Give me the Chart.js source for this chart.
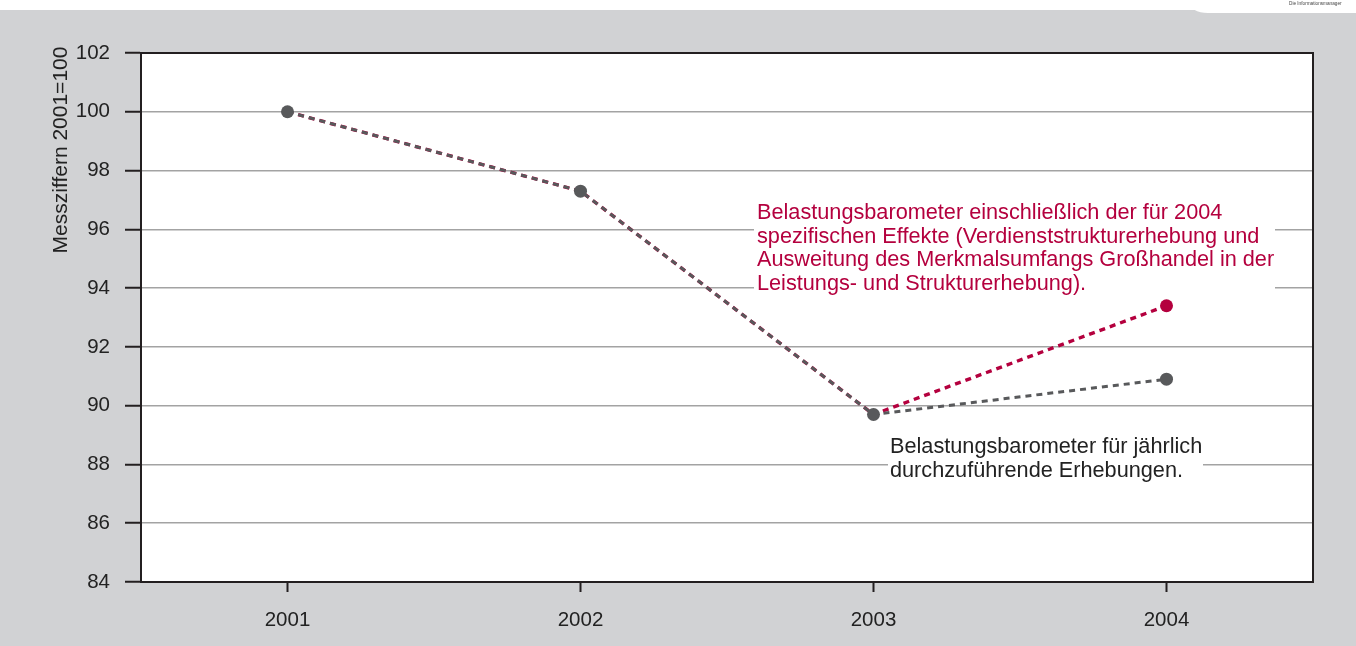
<!DOCTYPE html>
<html>
<head>
<meta charset="utf-8">
<script src="https://cdn.jsdelivr.net/npm/chart.js@4/dist/chart.umd.min.js"></script>
<style>
  html, body { margin: 0; padding: 0; background: #d1d2d4; }
  #wrap { position: relative; width: 1356px; height: 646px; }
</style>
</head>
<body>
<div id="wrap"><canvas id="myCanvas" width="1356" height="646"></canvas></div>
<script>
// chart data
var years = ['2001', '2002', '2003', '2004'];
var annual_values = [100, 97.3, 89.7, 90.9];
var specific_values = [100, 97.3, 89.7, 93.4];
var y_ticks = [84, 86, 88, 90, 92, 94, 96, 98, 100, 102];

var y_title = 'Messziffern 2001=100';
var red_note = [
    'Belastungsbarometer einschließlich der für 2004',
    'spezifischen Effekte (Verdienststrukturerhebung und',
    'Ausweitung des Merkmalsumfangs Großhandel in der',
    'Leistungs- und Strukturerhebung).'
];
var grey_note = [
    'Belastungsbarometer für jährlich',
    'durchzuführende Erhebungen.'
];

var grey = '#58595b';
var red = '#b4003e';
var font = '"Liberation Sans", Arial, Helvetica, sans-serif';

// background, header strip and logo
var backgroundPlugin = {
    id: 'bg',
    beforeDraw: function(chart) {
        var ctx = chart.ctx;
        ctx.save();
        ctx.fillStyle = '#d1d2d4';
        ctx.fillRect(0, 0, chart.width, chart.height);
        ctx.fillStyle = '#ffffff';
        ctx.fillRect(0, 0, chart.width, 10);
        // logo tab
        ctx.beginPath();
        ctx.moveTo(1185, 0);
        ctx.quadraticCurveTo(1192, 13, 1208, 13);
        ctx.lineTo(1356, 13);
        ctx.lineTo(1356, 0);
        ctx.closePath();
        ctx.fill();
        ctx.fillStyle = '#444';
        ctx.font = '6px ' + font;
        ctx.textBaseline = 'middle';
        ctx.save();
        ctx.translate(1289, 3.5);
        ctx.scale(0.78, 1);
        ctx.fillText('Die Informationsmanager', 0, 0);
        ctx.restore();
        // plot background
        var a = chart.chartArea;
        ctx.fillStyle = '#ffffff';
        ctx.fillRect(a.left, a.top, a.right - a.left, a.bottom - a.top);
        ctx.restore();
    }
};

// white text boxes over the gridlines + notes, frame
var notesPlugin = {
    id: 'notes',
    beforeDatasetsDraw: function(chart) {
        var ctx = chart.ctx;
        var a = chart.chartArea;
        ctx.save();
        ctx.fillStyle = '#ffffff';
        ctx.fillRect(754, 199, 521, 97);
        ctx.fillRect(888, 433, 315, 50);

        ctx.font = '21.7px ' + font;
        ctx.textBaseline = 'middle';
        ctx.fillStyle = red;
        for (var i = 0; i < red_note.length; i++) {
            ctx.fillText(red_note[i], 757, 213 + i * 23.6);
        }
        ctx.fillStyle = '#222';
        for (var j = 0; j < grey_note.length; j++) {
            ctx.fillText(grey_note[j], 890, 447 + j * 23.6);
        }

        // frame top and right
        ctx.strokeStyle = '#231f20';
        ctx.lineWidth = 2;
        ctx.beginPath();
        ctx.moveTo(a.left, a.top);
        ctx.lineTo(a.right, a.top);
        ctx.lineTo(a.right, a.bottom);
        ctx.stroke();

        // y title
        ctx.translate(61, 150);
        ctx.rotate(-Math.PI / 2);
        ctx.textAlign = 'center';
        ctx.fillStyle = '#222';
        ctx.font = '21px ' + font;
        ctx.fillText(y_title, 0, 0);
        ctx.restore();
    }
};

var myChart = new Chart(document.getElementById('myCanvas'), {
    type: 'line',
    data: {
        labels: years,
        datasets: [
            {
                label: 'jährlich',
                data: annual_values,
                borderColor: grey,
                backgroundColor: grey,
                borderWidth: 3,
                borderDash: [6, 5],
                pointRadius: 6.5,
                pointBorderWidth: 0,
                pointBackgroundColor: grey,
                fill: false,
                tension: 0
            },
            {
                label: '2004 spezifisch',
                data: specific_values,
                borderColor: red,
                backgroundColor: red,
                borderWidth: 3.4,
                borderDash: [6, 5],
                pointRadius: [0, 0, 0, 6.5],
                pointBorderWidth: 0,
                pointBackgroundColor: red,
                fill: false,
                tension: 0
            }
        ]
    },
    plugins: [backgroundPlugin, notesPlugin],
    options: {
        responsive: false,
        animation: false,
        devicePixelRatio: 1,
        layout: {
            padding: { left: 0, right: 43, top: 53, bottom: 0 }
        },
        plugins: {
            legend: { display: false },
            tooltip: { enabled: false },
            title: { display: false }
        },
        scales: {
            x: {
                offset: true,
                grid: {
                    offset: false,
                    drawOnChartArea: false,
                    drawTicks: true,
                    tickLength: 10,
                    tickColor: '#231f20',
                    tickWidth: 2
                },
                border: { color: '#231f20', width: 2 },
                ticks: {
                    color: '#222',
                    font: { family: font, size: 20.5 },
                    padding: 16,
                    maxRotation: 0
                },
                afterFit: function(scale) { scale.height = 64; }
            },
            y: {
                min: 84,
                max: 102,
                afterBuildTicks: function(scale) {
                    scale.ticks = y_ticks.map(function(v) { return { value: v }; });
                },
                grid: {
                    color: '#a3a3a3',
                    lineWidth: 1.5,
                    drawTicks: true,
                    tickLength: 16,
                    tickColor: '#231f20',
                    tickWidth: 2
                },
                border: { color: '#231f20', width: 2 },
                ticks: {
                    color: '#222',
                    font: { family: font, size: 20.5 },
                    padding: 15
                },
                afterFit: function(scale) { scale.width = 141; }
            }
        }
    }
});
</script>
</body>
</html>
